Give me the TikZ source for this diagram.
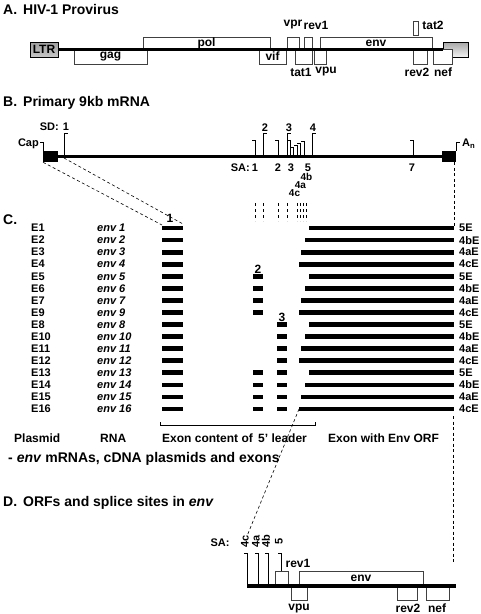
\documentclass[tikz,border=0pt]{standalone}
\usepackage{fontspec}
\setmainfont{Liberation Sans}
\begin{document}
\begin{tikzpicture}[x=1pt,y=-1pt,
  title/.style={inner sep=0pt, anchor=west, font=\fontsize{14}{14}\selectfont\bfseries},
  lblA/.style={inner sep=0pt, font=\fontsize{12}{12}\selectfont\bfseries},
  lblB/.style={inner sep=0pt, font=\fontsize{11}{11}\selectfont\bfseries},
  lblS/.style={inner sep=0pt, font=\fontsize{10}{10}\selectfont\bfseries},
  rowlbl/.style={inner sep=0pt, anchor=west, font=\fontsize{11}{11}\selectfont\bfseries},
  rnalbl/.style={inner sep=0pt, anchor=west, font=\fontsize{11}{11}\selectfont\bfseries\itshape},
  gene/.style={draw=black!75, line width=0.9pt, fill=white, inner sep=0pt, outer sep=0pt},
  backbone/.style={line width=3.4pt},
  exon/.style={line width=4.8pt},
  brk/.style={line width=0.8pt},
  dsh/.style={line width=0.6pt, dash pattern=on 3pt off 2.5pt},
  ltr/.style={draw=black, line width=1pt, inner sep=0pt, outer sep=0pt},
]
\useasboundingbox (0,0) rectangle (480,614);

% ---------------- A ----------------
\node[title] (tA) at (3,9) {A.\hspace{6pt}HIV-1 Provirus};
\node[ltr, top color=gray!75, bottom color=gray!45, minimum width=28pt, minimum height=15pt,
      font=\fontsize{12}{12}\selectfont\bfseries] (ltrL) at (44,49.5) {LTR};
\node[ltr, top color=gray!70, bottom color=gray!10, minimum width=25pt, minimum height=15pt] (ltrR) at (455.5,49.5) {};
\node[gene, minimum width=127pt, minimum height=12pt] (pol) at (206.5,43) {};
\node[gene, minimum width=73pt, minimum height=15pt] (gag) at (110.5,56.5) {};
\node[gene, minimum width=27pt, minimum height=15pt] (vif) at (272.5,56.5) {};
\node[gene, minimum width=12pt, minimum height=12pt] (vpr) at (293,43) {};
\node[gene, minimum width=8pt, minimum height=12pt] (rev1) at (308,43) {};
\node[gene, minimum width=17pt, minimum height=15pt] (tat1) at (303.5,56.5) {};
\node[gene, minimum width=12pt, minimum height=15pt] (vpu) at (320,56.5) {};
\node[gene, minimum width=112pt, minimum height=12pt] (env) at (376,43) {};
\node[gene, minimum width=5pt, minimum height=14pt] (tat2) at (415.5,28) {};
\node[gene, minimum width=14pt, minimum height=15pt] (rev2) at (420,56.5) {};
\node[gene, minimum width=19pt, minimum height=15pt] (nef) at (442.5,56.5) {};
\draw[backbone] (ltrL.east) -- (ltrR.west);
\node[lblA] at (pol.center) {pol};
\node[lblA] at (gag.center) {gag};
\node[lblA] at (vif.center) {vif};
\node[lblA] at (env.center) {env};
\node[lblA] at (293,25) {vpr};
\node[lblA] at (316,25) {rev1};
\node[lblA] at (433,25) {tat2};
\node[lblA] at (301,72) {tat1};
\node[lblA] at (326,72) {vpu};
\node[lblA] at (417,72) {rev2};
\node[lblA] at (443,72) {nef};

% ---------------- B ----------------
\node[title] (tB) at (3,103) {B.\hspace{6pt}Primary 9kb mRNA};
\node[fill=black, inner sep=0pt, outer sep=0pt, minimum width=15pt, minimum height=11.5pt] (capbox) at (50.5,156.5) {};
\node[fill=black, inner sep=0pt, outer sep=0pt, minimum width=14pt, minimum height=11.5pt] (anbox) at (449,156.5) {};
\draw[backbone] (capbox.east) -- (anbox.west);
\draw[brk] (40,142) -- (43,142) -- (capbox.north west);
\draw[brk] (anbox.north east) -- (456,142) -- (460,142);
\node[lblB, anchor=east] (cap) at (39,144) {Cap};
\node[lblB, anchor=west] (an) at (462,144) {A$_{\mathbf n}$};
% SD brackets (tick right)
\foreach \x in {64,263,287,312} {
  \draw[brk] (\x,156.5) -- (\x,133) -- (\x+4,133);
}
% SA brackets (tick left)
\foreach \x/\t in {255/140,278/140,290/140,293/147,297/145,300.5/143,304/141.5,413/140} {
  \draw[brk] (\x,156.5) -- (\x,\t) -- (\x-3.5,\t);
}
\node[lblB, anchor=east] at (59,127) {SD:};
\node[lblB] at (66,127) {1};
\node[lblB] at (265,128) {2};
\node[lblB] at (289,128) {3};
\node[lblB] at (313,128) {4};
\node[lblB, anchor=east] (sa) at (250,168) {SA:};
\node[lblB] at (255,168) {1};
\node[lblB] at (278,168) {2};
\node[lblB] at (291,168) {3};
\node[lblB] at (308,167.5) {5};
\node[lblB] at (412,168) {7};
\node[lblS] at (306.5,177) {4b};
\node[lblS] at (300.5,185) {4a};
\node[lblS] at (294.5,193) {4c};
% small dashed guides
\foreach \x in {255,263,278,287,297,300,303,306} {
  \draw[line width=0.6pt, dash pattern=on 3pt off 3pt] (\x,203) -- (\x,221);
}

% ---------------- C ----------------
\node[title] (tC) at (3,220) {C.};
\foreach \i/\pl/\rn/\ha/\hb/\ty/\sx in {
  1/E1/1/0/0/5E/309, 2/E2/2/0/0/4bE/305, 3/E3/3/0/0/4aE/301, 4/E4/4/0/0/4cE/299,
  5/E5/5/1/0/5E/309, 6/E6/6/1/0/4bE/305, 7/E7/7/1/0/4aE/301, 8/E9/9/1/0/4cE/299,
  9/E8/8/0/1/5E/309, 10/E10/10/0/1/4bE/305, 11/E11/11/0/1/4aE/301, 12/E12/12/0/1/4cE/299,
  13/E13/13/1/1/5E/309, 14/E14/14/1/1/4bE/305, 15/E15/15/1/1/4aE/301, 16/E16/16/1/1/4cE/299} {
  \pgfmathsetmacro\yy{228+12.07*(\i-1)}
  \node[rowlbl] (pl\i) at (31,\yy) {\pl};
  \node[rnalbl] (rn\i) at (97,\yy) {env \rn};
  \coordinate (ea\i) at (162,\yy);
  \coordinate (eb\i) at (183,\yy);
  \draw[exon] (ea\i) -- (eb\i);
  \ifnum\ha=1 \draw[exon] (253,\yy) -- (263,\yy); \fi
  \ifnum\hb=1 \draw[exon] (277,\yy) -- (287,\yy); \fi
  \coordinate (bar\i) at (\sx,\yy);
  \coordinate (end\i) at (454,\yy);
  \draw[exon] (bar\i) -- (end\i);
  \node[rowlbl] (ty\i) at (459,\yy) {\ty};
}
\node[lblA] at (170,218) {1};
\node[lblA] at (258,269) {2};
\node[lblA] at (282,317) {3};
% connectors B -> C
\draw[dsh] (capbox.south west) -- (ea1 |- 0,225);
\draw[dsh] (64,158) -- (eb1 |- 0,224);
\draw[dsh] (anbox.south -| end1) -- (end1);
% bracket
\draw[line width=0.9pt] (160,422) -- (160,425) -- (315,425) -- (315,422);
\node[lblA, anchor=west] at (14,438) {Plasmid};
\node[lblA, anchor=west] at (100,438) {RNA};
\node[lblA, anchor=west] at (162,438) {Exon content of \,5' leader};
\node[lblA, anchor=west] at (328,438) {Exon with Env ORF};
\node[title] at (8,459) {- \textit{env} mRNAs, cDNA plasmids and exons};

% ---------------- D ----------------
\node[title] (tD) at (3,503) {D.\hspace{6pt}ORFs and splice sites in \textit{env}};
\node[gene, minimum width=13pt, minimum height=15pt] (drev1) at (281.5,578.5) {};
\node[gene, minimum width=124pt, minimum height=15pt] (denv) at (361,578.5) {};
\node[gene, minimum width=16pt, minimum height=14pt] (dvpu) at (299,593) {};
\node[gene, minimum width=20pt, minimum height=14pt] (drev2) at (407,593) {};
\node[gene, minimum width=23pt, minimum height=14pt] (dnef) at (437.5,593) {};
\coordinate (dL) at (247,586);
\coordinate (dR) at (456,586);
\draw[backbone] (dL) -- (dR);
\foreach \x in {247,258,268} {
  \draw[brk] (\x,586) -- (\x,553) -- (\x-3.5,553);
}
\draw[brk] (281,571) -- (281,553) -- (277.5,553);
\node[lblB, rotate=90] at (245,541) {4c};
\node[lblB, rotate=90] at (256,541) {4a};
\node[lblB, rotate=90] at (266,541) {4b};
\node[lblB, rotate=90] at (279,541) {5};
\node[lblB] at (220,543) {SA:};
\node[lblA] at (298,563) {rev1};
\node[lblA] at (denv.center) {env};
\node[lblA] at (299,608) {vpu};
\node[lblA] at (408,608) {rev2};
\node[lblA] at (437,608) {nef};
% connectors C -> D
\coordinate (d4c) at (247,536);
\draw[dsh] (bar16) -- (d4c);
\coordinate (rtop) at (453,416);
\coordinate (rbot) at (453,563);
\draw[dsh] (rtop) -- (rbot);
\end{tikzpicture}
\end{document}
